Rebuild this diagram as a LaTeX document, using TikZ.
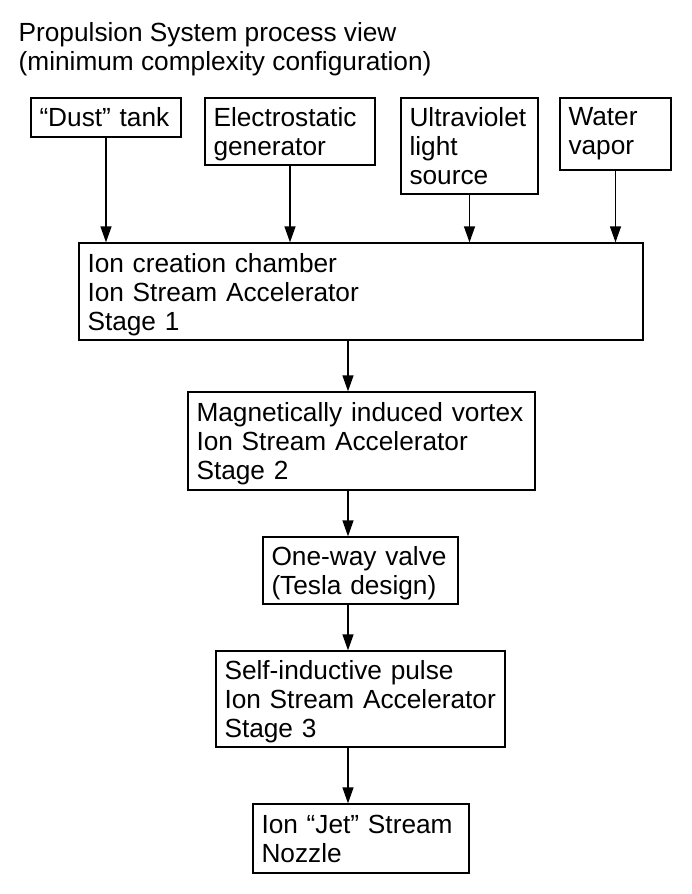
\documentclass[tikz,border=0pt]{standalone}
\usepackage{fontspec}
\setmainfont{Liberation Sans}
\usetikzlibrary{arrows.meta}

\begin{document}
\begin{tikzpicture}[x=1pt, y=-1pt, line width=1.3pt,
    every node/.style={font=\fontsize{26.25}{29}\selectfont, align=left},
    box/.style={draw, inner xsep=8.5pt, inner ysep=3pt},
    flow/.style={-{Triangle[length=16pt,width=11pt]}}]
    \useasboundingbox (0,0) rectangle (692,894);

    \node[inner sep=0pt, anchor=north west] (title) at (18,22) {Propulsion System process view\\(minimum complexity configuration)};

    \node[box, text width=133pt, minimum height=39pt] (dust) at (106,117.5) {“Dust” tank};
    \node[box, text width=153pt, minimum height=67pt, text depth=29pt] (elec) at (290,131.5) {Electrostatic\\generator};
    \node[box, text width=120pt, minimum height=96pt] (uv) at (469.5,146) {Ultraviolet\\light\\source};
    \node[box, text width=94pt, minimum height=72pt] (water) at (615.5,134) {Water\\vapor};
    \node[box, text width=547pt, minimum height=97pt, text depth=58pt] (ion) at (361,291.5) {Ion creation chamber\\Ion Stream Accelerator\\Stage 1};
    \node[box, text width=330pt, minimum height=98pt, text depth=58pt] (mag) at (361.5,441) {Magnetically induced vortex\\Ion Stream Accelerator\\Stage 2};
    \node[box, text width=178pt, minimum height=67pt, text depth=29pt] (valve) at (360.5,570.5) {One-way valve\\(Tesla design)};
    \node[box, text width=272pt, minimum height=96pt, text depth=58pt] (pulse) at (360.5,699) {Self-inductive pulse\\Ion Stream Accelerator\\Stage 3};
    \node[box, text width=199pt, minimum height=69pt] (nozzle) at (361,838.5) {Ion “Jet” Stream\\Nozzle};

    \coordinate (axis) at (348,0);

    \draw[flow] (dust) -- (dust |- ion.north);
    \draw[flow] (elec) -- (elec |- ion.north);
    \draw[flow] (uv) -- (uv |- ion.north);
    \draw[flow] (water) -- (water |- ion.north);
    \draw[flow] (ion.south -| axis) -- (mag.north -| axis);
    \draw[flow] (mag.south -| axis) -- (valve.north -| axis);
    \draw[flow] (valve.south -| axis) -- (pulse.north -| axis);
    \draw[flow] (pulse.south -| axis) -- (nozzle.north -| axis);
  \end{tikzpicture}
\end{document}
